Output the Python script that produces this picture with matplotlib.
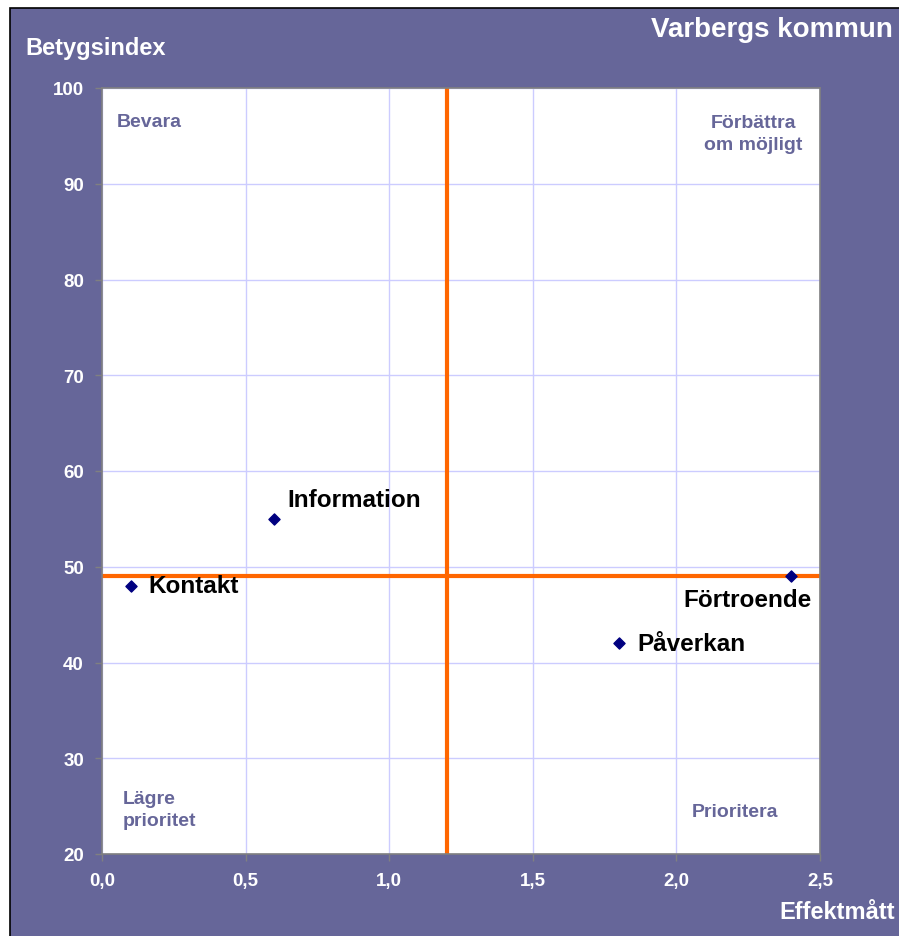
import matplotlib.pyplot as plt
from matplotlib.patches import Rectangle

# Data
labels = ["Kontakt", "Information", "Förtroende", "Påverkan"]
effekt = [0.1, 0.6, 2.4, 1.8]
betyg = [48, 55, 49, 42]
x_ticks = [0.0, 0.5, 1.0, 1.5, 2.0, 2.5]
y_ticks = [20, 30, 40, 50, 60, 70, 80, 90, 100]
x_split = 1.2
y_split = 49

PURPLE = "#666699"
FONT = "Liberation Sans"

plt.rcParams["font.family"] = [FONT, "DejaVu Sans"]

fig = plt.figure(figsize=(8.99, 9.37), dpi=100, facecolor="white")
fig.patches.append(Rectangle((10 / 899, -0.01), 1.0, 1 - 9 / 937 + 0.01,
                             transform=fig.transFigure, facecolor=PURPLE,
                             edgecolor="black", linewidth=1.2, zorder=-5))

ax = fig.add_axes([102 / 899, 1 - 855 / 937, 718 / 899, 766 / 937])
ax.set_facecolor("white")
ax.set_xlim(0, 2.5)
ax.set_ylim(20, 100)
ax.set_xticks(x_ticks)
ax.set_yticks(y_ticks)
ax.set_xticklabels([f"{v:.1f}".replace(".", ",") for v in x_ticks])
ax.set_yticklabels([str(v) for v in y_ticks])
ax.tick_params(colors="#808080", labelcolor="white", length=5, width=1, pad=8)
for lab in ax.get_xticklabels() + ax.get_yticklabels():
    lab.set_fontweight("bold")
    lab.set_fontsize(13.5)
for s in ax.spines.values():
    s.set_color("#808080")
    s.set_linewidth(1.2)
ax.grid(True, color="#ccccff", linewidth=1)
ax.set_axisbelow(True)

ax.axvline(x_split, color="#ff6600", linewidth=3, zorder=2)
ax.axhline(y_split, color="#ff6600", linewidth=3, zorder=2)

ax.scatter(effekt, betyg, marker="D", s=32, color="#000080", zorder=3)

# label offsets in points: (dx, dy, ha, va)
offsets = {
    "Kontakt": (13, 0, "left", "center"),
    "Information": (9.5, 9.5, "left", "baseline"),
    "Förtroende": (14.5, -16.5, "right", "center"),
    "Påverkan": (13, 0, "left", "center"),
}
for name, x, y in zip(labels, effekt, betyg):
    dx, dy, ha, va = offsets[name]
    ax.annotate(name, (x, y), xytext=(dx, dy), textcoords="offset points",
                ha=ha, va=va, fontsize=17.5, fontweight="bold", color="black",
                zorder=4)

# quadrant labels
qkw = dict(transform=ax.transAxes, color=PURPLE, fontsize=14, fontweight="bold")
ax.text(0.021, 0.968, "Bevara", ha="left", va="top", **qkw)
ax.text(0.976, 0.966, "Förbättra\nom möjligt", ha="right", va="top",
        multialignment="center", linespacing=1.4, **qkw)
ax.text(0.029, 0.033, "Lägre\nprioritet", ha="left", va="bottom",
        linespacing=1.4, **qkw)
ax.text(0.9415, 0.044, "Prioritera", ha="right", va="bottom", **qkw)

fig.text(25 / 899, 1 - 48 / 937, "Betygsindex", color="white", fontsize=17,
         fontweight="bold", ha="left", va="center")
fig.text(893 / 899, 1 - 30 / 937, "Varbergs kommun", color="white", fontsize=20,
         fontweight="bold", ha="right", va="center")
fig.text(895 / 899, 1 - 913 / 937, "Effektmått", color="white", fontsize=17,
         fontweight="bold", ha="right", va="center")

fig.savefig("out.png", dpi=100, facecolor=fig.get_facecolor())
